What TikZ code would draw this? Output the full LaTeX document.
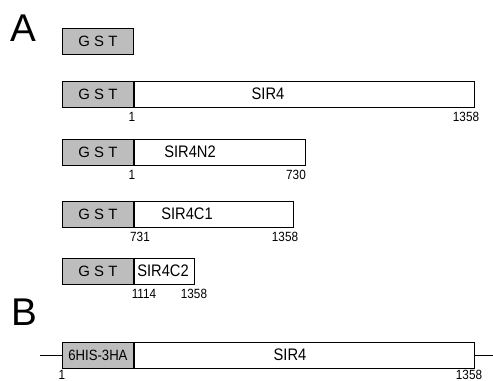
\documentclass[tikz,border=0pt]{standalone}
\usepackage{fontspec}
\setmainfont{Liberation Sans}
\newfontfamily\narrowfont[FakeStretch=0.88]{Liberation Sans}
\usetikzlibrary{positioning}
\definecolor{tagfill}{gray}{0.74}

\begin{document}
\begin{tikzpicture}[
    x=0.02cm, y=-0.02cm,
    tag/.style={draw, line width=0.5pt, fill=tagfill, minimum width=1.42cm, minimum height=0.52cm, inner sep=0, anchor=west, font=\fontsize{8.5}{10}\selectfont},
    body/.style={draw, line width=0.5pt, fill=white, minimum height=0.52cm, inner sep=0, anchor=west},
    protlabel/.style={font=\narrowfont\fontsize{9.5}{11}\selectfont},
    num/.style={font=\narrowfont\fontsize{7.6}{9}\selectfont, inner sep=0},
    panel/.style={font=\fontsize{22}{24}\selectfont, inner sep=0}
]
\useasboundingbox (0,0) rectangle (493,381);
% panel A
\node[panel] (A) at (23,28) {A};
\node[tag] (gst0) at (62,41) {G S T};
% fusion constructs
\foreach \r/\y/\e/\t/\tx/\lo/\lx/\hi/\hx in {
    1/94/473/SIR4/268/1/132/1358/466,
    2/152/304/SIR4N2/190/1/132/730/296,
    3/214/292/SIR4C1/187/731/140/1358/285,
    4/271/193/SIR4C2/163/1114/144/1358/194} {
  \node[tag] (gst\r) at (62,\y) {G S T};
  \node[body, minimum width={(\e-133)*0.02cm}] (prot\r) at (gst\r.east) {};
  \node[protlabel] (nm\r) at (\tx,\y) {\t};
  \node[num] (lo\r) at (\lx,\y+23) {\lo};
  \node[num] (hi\r) at (\hx,\y+23) {\hi};
}
% panel B
\node[panel] (B) at (24,312) {B};
\node[tag, font=\narrowfont\fontsize{8.5}{10}\selectfont] (ha) at (62,355) {6HIS-3HA};
\node[body, minimum width=6.8cm] (full) at (ha.east) {};
\node[protlabel] (nmB) at (290,355) {SIR4};
\coordinate (lend) at (40,355);
\coordinate (rend) at (493,355);
\draw[line width=0.4pt] (lend) -- (ha.west);
\draw[line width=0.4pt] (full.east) -- (rend);
\node[num] (loB) at (62,375) {1};
\node[num] (hiB) at (469,375) {1358};
\end{tikzpicture}
\end{document}
